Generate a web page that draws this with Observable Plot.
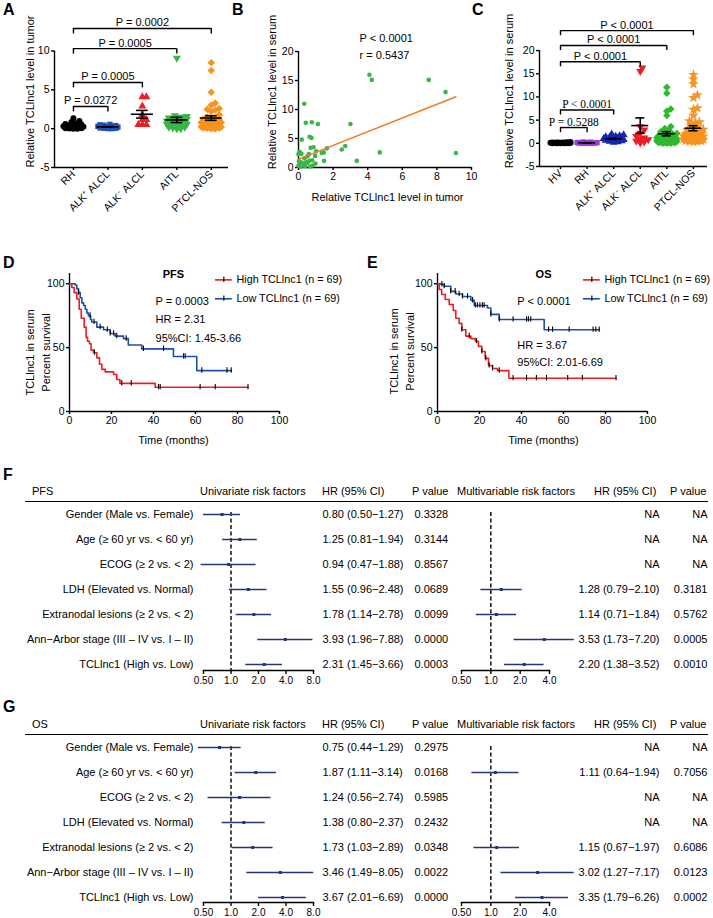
<!DOCTYPE html>
<html><head><meta charset="utf-8">
<script src="https://cdn.jsdelivr.net/npm/d3@7"></script>
<script src="https://cdn.jsdelivr.net/npm/@observablehq/plot@0.6"></script>
<style>
html,body{margin:0;padding:0;background:#fff;}
#fig{position:relative;width:713px;height:918px;overflow:hidden;background:#fff;color:#000;}
</style></head><body><div id="fig"></div>
<script>
// ================= DATA =================
// Panel A: relative TCLlnc1 level in tumor
const catsA = ["RH", "ALK⁺ ALCL", "ALK⁻ ALCL", "AITL", "PTCL-NOS"];
const tumorRH = [1.35,1.0,0.85,0.7,0.55,0.45,0.35,0.3,0.25,0.2,0.15,0.1,0.1,0.05,0.05,0.02,0.0,0.0,0.4,0.6];
const tumorALKpos = [0.55,0.5,0.45,0.4,0.35,0.3,0.3,0.25,0.2,0.2,0.15,0.1,0.1,0.05,0.05,0.0,0.0];
const tumorALKneg = [4.1,4.1,2.9,1.8,1.15,1.15,0.5,0.5,0.5];
const tumorAITL = [9.1,1.7,1.6,1.5,1.4,1.3,1.2,1.1,1.0,0.9,0.8,0.7,0.6,0.5,0.4,0.3,0.2,0.1,0.0,0.0,1.5,1.2,0.8,0.5,0.2,0.6];
const tumorPTCL = [8.5,7.5,4.7,3.3,3.0,2.6,2.5,2.4,2.2,1.8,1.5,1.4,1.3,1.2,1.1,1.0,0.9,0.8,0.7,0.6,0.5,0.4,0.3,0.3,0.2,0.2,0.1,0.1,0.0,0.0,0.5,0.8,1.0,0.1,0.2,0.3,0.4,0.05,0.15,0.25];
const bracketsA = [
  {from: 0, to: 4, label: "P = 0.0002"},
  {from: 0, to: 3, label: "P = 0.0005"},
  {from: 0, to: 2, label: "P = 0.0005"},
  {from: 0, to: 1, label: "P = 0.0272"}
];

// Panel B: tumor vs serum
const bTumor = [4.1,4.24,7.53,8.5,9.1,4.7,3.37,3.0,2.7,2.5,0.33,0.42,0.77,1.12,0.64,0.75,0.19,0.7,0.87,1.02,1.35,1.46,1.64,1.48,0.06,0.1,0.0,0.17,0.52,0.6,0.96,0.35,0.79,0.98,0.83,0.52,0.3,0.1,0.0,0.13,0.38,0.67,0.19,0.02,0.44,0.63];
const bSerum = [16.0,15.1,15.1,13.0,2.5,2.6,1.15,7.5,3.7,3.1,11.0,7.7,7.8,7.5,5.3,5.1,4.8,3.4,3.5,2.8,2.5,2.6,3.3,1.15,2.7,2.5,2.3,2.35,1.95,2.3,2.0,1.6,1.25,0.7,0.35,0.8,0.6,0.7,0.3,0.17,0.23,0.17,0.86,1.1,0.9,1.15];
const fitX = [0, 9.1];
const fitY = [1.44, 12.2];
const statsB = ["P < 0.0001", "r = 0.5437"];

// Panel C: relative TCLlnc1 level in serum
const catsC = ["HV", "RH", "ALK⁺ ALCL", "ALK⁻ ALCL", "AITL", "PTCL-NOS"];
const serumHV = [0.3,0.25,0.2,0.2,0.15,0.15,0.1,0.1,0.1,0.05,0.05,0.05,0.0,0.0,0.0,0.0,0.02,0.08,0.12,0.18];
const serumRH = [0.3,0.25,0.2,0.15,0.1,0.1,0.05,0.05,0.0,0.0,0.02,0.08,0.12,0.18];
const serumALKpos = [2.0,1.8,1.6,1.5,1.3,1.2,1.1,1.0,0.9,0.8,0.7,0.6,0.5,0.4,0.3,0.2,1.4,1.0,0.8,0.6];
const serumALKneg = [16.3,15.5,3.6,2.9,2.2,1.5,1.2,1.0,0.8,0.5,0.3,0.1];
const serumAITL = [12.1,10.8,7.4,6.9,6.0,3.6,3.2,2.8,2.5,2.3,2.1,2.0,1.8,1.7,1.6,1.5,1.4,1.3,1.2,1.1,1.0,1.0,0.9,0.8,0.8,0.7,0.6,0.6,0.5,0.5,0.4,0.3,0.3,0.2,0.2,0.1,0.1,0.0,0.0,0.0];
const serumPTCL = [14.8,13.8,12.8,10.4,9.8,7.6,7.3,6.0,4.8,4.6,4.4,4.0,3.5,3.2,3.0,2.8,2.6,2.4,2.2,2.0,1.9,1.8,1.7,1.6,1.5,1.4,1.3,1.2,1.1,1.0,0.9,0.8,0.7,0.6,0.5,0.5,0.4,0.3,1.2,1.0,0.8,0.6,0.4,1.5,2.0,1.1];
const bracketsC = [
  {from: 0, to: 5, label: "P < 0.0001"},
  {from: 0, to: 4, label: "P < 0.0001"},
  {from: 0, to: 3, label: "P < 0.0001"},
  {from: 0, to: 2, label: "P < 0.0001"},
  {from: 0, to: 1, label: "P = 0.5288"}
];

// Panels D/E: Kaplan-Meier (time in months, percent survival)
const seriesNames = ["High TCLlnc1 (n = 69)", "Low TCLlnc1 (n = 69)"];
const pfsHighT = [0,1.1,2.2,3.5,4.6,5.6,7,7.9,8.6,9.5,10.3,11.4,13,14.3,15.4,17,21,22.5,24,40.8,85];
const pfsHighS = [100,97,93,88,80,73,66,58,55,53,48,46,42,37,33,31,29,25,22,19,19];
const pfsHighCens = [11.9,24.9,29.4,42.4,43.2,62.2,69.4,85];
const pfsLowT = [0,2.7,3.5,4.3,5.1,5.9,6.7,7.5,8.3,9,10,10.6,13,16.2,19.4,21.7,25.7,28,34.4,49.5,60.6,77];
const pfsLowS = [100,99,96,93,89,85,83,80,77,75,72,70,66,64,61,59,57,52,49,43,32,32];
const pfsLowCens = [4.3,9.8,11.7,14.6,18,19.4,21,22.5,27,35.2,44.8,54.3,55.1,63,75,77];
const pfsStats = ["P = 0.0003", "HR = 2.31", "95%CI: 1.45-3.66"];
const osHighT = [0,0.8,2,3.7,5.6,7.5,8.7,10.3,11.6,13.5,15.9,18,19.5,21.1,22.7,24.3,26.2,28.6,34,85];
const osHighS = [100,95.5,91.6,87.6,83.7,79,73,69,64,59,57,55,51,47,41.6,36,33.7,32,26,26];
const osHighCens = [11.6,15.1,18.6,21.1,23,24.6,26.2,29.4,36,42.4,47.1,51.9,62,69,85];
const osLowT = [0,1.6,3.2,6.3,8.7,11.9,15.9,17.5,23.8,25.4,29.4,50.8,77];
const osLowS = [100,99.5,98,94,92,90,87,83,81,76,72,64,64];
const osLowCens = [2.1,3.2,6.3,8.4,10.3,11.9,14.3,16.7,18,19,20.2,21.4,22.2,25.4,29.4,36,42.4,43.3,44.4,52.9,54.8,62.7,74.1,75.4,77];
const osStats = ["P < 0.0001", "HR = 3.67", "95%CI: 2.01-6.69"];

// Panels F/G: forest tables
const factorLabels = ["Gender (Male vs. Female)", "Age (≥ 60 yr vs. < 60 yr)", "ECOG (≥ 2 vs. < 2)", "LDH (Elevated vs. Normal)", "Extranodal lesions (≥ 2 vs. < 2)", "Ann−Arbor stage (III – IV vs. I – II)", "TCLlnc1 (High vs. Low)"];
const pfsUniHR = [0.80,1.25,0.94,1.55,1.78,3.93,2.31];
const pfsUniLo = [0.50,0.81,0.47,0.96,1.14,1.96,1.45];
const pfsUniHi = [1.27,1.94,1.88,2.48,2.78,7.88,3.66];
const pfsUniP = ["0.3328","0.3144","0.8567","0.0689","0.0099","0.0000","0.0003"];
const pfsMulHR = [null,null,null,1.28,1.14,3.53,2.20];
const pfsMulLo = [null,null,null,0.79,0.71,1.73,1.38];
const pfsMulHi = [null,null,null,2.10,1.84,7.20,3.52];
const pfsMulP = ["NA","NA","NA","0.3181","0.5762","0.0005","0.0010"];
const osUniHR = [0.75,1.87,1.24,1.38,1.73,3.46,3.67];
const osUniLo = [0.44,1.11,0.56,0.80,1.03,1.49,2.01];
const osUniHi = [1.29,3.14,2.74,2.37,2.89,8.05,6.69];
const osUniP = ["0.2975","0.0168","0.5985","0.2432","0.0348","0.0022","0.0000"];
const osMulHR = [null,1.11,null,null,1.15,3.02,3.35];
const osMulLo = [null,0.64,null,null,0.67,1.27,1.79];
const osMulHi = [null,1.94,null,null,1.97,7.17,6.26];
const osMulP = ["NA","0.7056","NA","NA","0.6086","0.0123","0.0002"];
const forestTicksUni = [0.5,1,2,4,8];
const forestTicksMul = [0.5,1,2,4];

// ================= STYLE / LAYOUT =================
const FONT = "'Liberation Sans', Arial, Helvetica, sans-serif";
const SERIF = "'Liberation Serif', 'Times New Roman', serif";
const RED = "#ee1c25", BLUE = "#1f4fa8", NAVY = "#25357a";
const style = {fontFamily: FONT, fontSize: "10px", background: "transparent", color: "#000", overflow: "visible"};
const fig = document.getElementById("fig");
function put(node, left, top) {
  const d = document.createElement("div");
  d.style.cssText = `position:absolute;left:${left}px;top:${top}px;`;
  d.appendChild(node); fig.appendChild(d);
}
function htext(txt, left, top, css = "") {
  const d = document.createElement("div");
  d.textContent = txt;
  d.style.cssText = `position:absolute;left:${left}px;top:${top}px;font:11px/13px ${FONT};white-space:nowrap;color:#000;${css}`;
  fig.appendChild(d);
}
function letter(t, left, top) { htext(t, left, top, `font:bold 16px/16px ${FONT};`); }
function hline(left, top, width) {
  const d = document.createElement("div");
  d.style.cssText = `position:absolute;left:${left}px;top:${top}px;width:${width}px;height:0;border-top:1.5px solid #000;`;
  fig.appendChild(d);
}

// simple beeswarm layout (pixel space) -> x offsets in data units
function swarm(vals, pxY, pxX, minD, maxHalf) {
  const idx = vals.map((_, i) => i).sort((a, b) => vals[a] - vals[b]);
  const step = minD / 2, cands = [0];
  for (let k = 1; k * step <= maxHalf; k++) cands.push(k * step, -k * step);
  const placed = [], off = [];
  for (const i of idx) {
    const py = vals[i] * pxY;
    let best = 0, bestD = -1;
    for (const c of cands) {
      let d = Infinity;
      for (const p of placed) d = Math.min(d, Math.hypot(p[0] - c, p[1] - py));
      if (d >= minD) { best = c; break; }
      if (d > bestD) { bestD = d; best = c; }
    }
    placed.push([best, py]);
    off[i] = best / pxX;
  }
  return off;
}

function dotPanel(o) {
  const pts = [], stats = [];
  o.groups.forEach((g, i) => {
    const off = swarm(g.vals, o.pxY, o.pxX, o.minD, o.maxHalf);
    g.vals.forEach((v, k) => pts.push({x: i + off[k], y: v, g: i}));
    const m = d3.mean(g.vals), s = d3.deviation(g.vals) / Math.sqrt(g.vals.length);
    stats.push({i, mean: m, lo: m - s, hi: m + s});
  });
  const br = o.brackets.map((b, k) => ({x1: b.from, x2: b.to, y: o.bracketY[k], label: b.label, font: o.bracketFont[k]}));
  const x0 = o.xDomain[0], y0 = o.yDomain[0];
  return Plot.plot({
    width: o.width, height: o.height, marginLeft: o.marginLeft, marginRight: o.marginRight,
    marginTop: 0, marginBottom: o.marginBottom,
    x: {domain: o.xDomain, label: null}, y: {domain: o.yDomain, label: null},
    style,
    marks: [
      Plot.ruleX([x0], {y1: y0, y2: o.axisTop, strokeWidth: 1.4}),
      Plot.ruleY([y0], {strokeWidth: 1.4}),
      Plot.axisY({ticks: o.yTicks, tickFormat: d => String(d), tickSize: 3, tickPadding: 2, fontSize: 10.5, strokeWidth: 1.4, label: null}),
      Plot.axisX({ticks: d3.range(o.cats.length), tickFormat: i => o.cats[i], tickRotate: -45, tickSize: 3, tickPadding: 2, fontSize: 10.5, strokeWidth: 1.4, label: null}),
      ...o.groups.map((g, i) => Plot.dot(pts.filter(p => p.g === i), {x: "x", y: "y", fill: g.color, symbol: g.symbol, rotate: g.rotate, r: g.r || o.r})),
      Plot.ruleY(stats, {y: "mean", x1: d => d.i - 0.32, x2: d => d.i + 0.32, strokeWidth: 1.6}),
      Plot.ruleX(stats, {x: "i", y1: "lo", y2: "hi", strokeWidth: 1.6}),
      Plot.ruleY(stats, {y: "hi", x1: d => d.i - 0.17, x2: d => d.i + 0.17, strokeWidth: 1.6}),
      Plot.ruleY(stats, {y: "lo", x1: d => d.i - 0.17, x2: d => d.i + 0.17, strokeWidth: 1.6}),
      Plot.ruleY(br, {y: "y", x1: "x1", x2: "x2", strokeWidth: 1.4}),
      Plot.ruleX(br, {x: "x1", y1: "y", y2: d => d.y - o.drop, strokeWidth: 1.4}),
      Plot.ruleX(br, {x: "x2", y1: "y", y2: d => d.y - o.drop, strokeWidth: 1.4}),
      Plot.text(br.filter(d => d.font !== "serif"), {x: d => (d.x1 + d.x2) / 2, y: "y", text: "label", lineAnchor: "bottom", dy: -2, fontSize: 11}),
      Plot.text(br.filter(d => d.font === "serif"), {x: d => (d.x1 + d.x2) / 2, y: "y", text: "label", lineAnchor: "bottom", dy: -2, fontSize: 11.5, fontFamily: SERIF}),
      Plot.text([o.yTitle], {text: d => d, frameAnchor: "left", rotate: -90, textAnchor: "middle", lineAnchor: "middle", dx: o.titleDx, dy: o.titleDy, fontSize: 11})
    ]
  });
}

// ---------- Panel A ----------
letter("A", 3, 2);
put(dotPanel({
  cats: catsA,
  groups: [
    {vals: tumorRH, color: "#000000", symbol: "circle", rotate: 0},
    {vals: tumorALKpos, color: "#2050b4", symbol: "square", rotate: 0},
    {vals: tumorALKneg, color: "#ee1c25", symbol: "triangle", rotate: 0},
    {vals: tumorAITL, color: "#39b54a", symbol: "triangle", rotate: 180},
    {vals: tumorPTCL, color: "#f7931e", symbol: "square", rotate: 45}
  ],
  brackets: bracketsA, bracketY: [12.9, 10.3, 5.95, 2.86], bracketFont: ["sans","sans","sans","sans"], drop: 0.7,
  xDomain: [-0.55, 4.5], yDomain: [-5, 16.5], yTicks: [-5, 0, 5, 10], axisTop: 10,
  width: 240, height: 230, marginLeft: 54, marginRight: 12, marginBottom: 63,
  pxY: 7.77, pxX: 34.46, r: 3.0, minD: 4.0, maxHalf: 10,
  yTitle: "Relative TCLlnc1 level in tumor", titleDx: -24.5, titleDy: 7.5
}), 0, 0);

// ---------- Panel B ----------
letter("B", 232, 2);
{
  const pts = bTumor.map((x, i) => ({x, y: bSerum[i]}));
  const fit = fitX.map((x, i) => ({x, y: fitY[i]}));
  const B = Plot.plot({
    width: 245, height: 210, marginLeft: 68, marginRight: 4, marginTop: 51, marginBottom: 43,
    x: {domain: [0, 10], label: null}, y: {domain: [0, 20], label: null},
    style,
    marks: [
      Plot.ruleX([0], {strokeWidth: 1.4}),
      Plot.ruleY([0], {strokeWidth: 1.4}),
      Plot.axisY({ticks: [0, 5, 10, 15, 20], tickSize: 3, tickPadding: 2, fontSize: 10.5, strokeWidth: 1.4, label: null}),
      Plot.axisX({ticks: [0, 2, 4, 6, 8, 10], tickSize: 3, tickPadding: 2, fontSize: 10.5, strokeWidth: 1.4, label: null}),
      Plot.dot(pts, {x: "x", y: "y", r: 2.3, fill: "#3cb54a"}),
      Plot.line(fit, {x: "x", y: "y", stroke: "#f47a20", strokeWidth: 1.5}),
      Plot.text(statsB, {text: d => d, x: 3.53, y: (d, i) => [22.2, 19.4][i], textAnchor: "start", fontSize: 11}),
      Plot.text(["Relative TCLlnc1 level in serum"], {text: d => d, frameAnchor: "left", rotate: -90, textAnchor: "middle", lineAnchor: "middle", dx: -26, dy: -17.5, fontSize: 11}),
      Plot.text(["Relative TCLlnc1 level in tumor"], {text: d => d, frameAnchor: "bottom", textAnchor: "middle", lineAnchor: "middle", dx: 2.5, dy: 30, fontSize: 11})
    ]
  });
  put(B, 230, 0);
}

// ---------- Panel C ----------
letter("C", 472, 2);
put(dotPanel({
  cats: catsC,
  groups: [
    {vals: serumHV, color: "#000000", symbol: "circle", rotate: 0},
    {vals: serumRH, color: "#a335d6", symbol: "square", rotate: 0},
    {vals: serumALKpos, color: "#1426b4", symbol: "triangle", rotate: 0},
    {vals: serumALKneg, color: "#ee1c25", symbol: "triangle", rotate: 180},
    {vals: serumAITL, color: "#2db82d", symbol: "square", rotate: 45},
    {vals: serumPTCL, color: "#f7931e", symbol: "star", rotate: 0, r: 3.4}
  ],
  brackets: bracketsC, bracketY: [24.3, 21.1, 17.6, 7.2, 3.4], bracketFont: ["sans","sans","sans","serif","serif"], drop: 1.1,
  xDomain: [-0.79, 5.53], yDomain: [-5, 30.8], yTicks: [-5, 0, 5, 10, 15, 20], axisTop: 20,
  width: 243, height: 230, marginLeft: 69, marginRight: 6, marginBottom: 64,
  pxY: 4.64, pxX: 26.6, r: 3.0, minD: 4.0, maxHalf: 10,
  yTitle: "Relative TCLlnc1 level in serum", titleDx: -30, titleDy: 7.5
}), 470, 0);

// ---------- Panels D / E ----------
function steps(T, S) { return T.map((t, i) => ({t, s: S[i]})); }
function survAt(T, S, t) { let s = S[0]; for (let i = 0; i < T.length; i++) if (T[i] <= t) s = S[i]; return s; }
function kmPanel(o) {
  const hi = steps(o.highT, o.highS), lo = steps(o.lowT, o.lowS);
  const cens = [...o.highCens.map(t => ({t, s: survAt(o.highT, o.highS, t)})),
                ...o.lowCens.map(t => ({t, s: survAt(o.lowT, o.lowS, t)}))];
  const leg = seriesNames.map((name, i) => ({name, y: [103, 88.2][i], color: [RED, BLUE][i]}));
  return Plot.plot({
    width: o.width, height: 220, marginLeft: o.marginLeft, marginRight: o.marginRight, marginTop: 43, marginBottom: 39,
    x: {domain: [0, 100], label: null}, y: {domain: [0, 108], label: null},
    style,
    marks: [
      Plot.ruleX([0], {strokeWidth: 1.4}),
      Plot.ruleY([0], {strokeWidth: 1.4}),
      Plot.axisY({ticks: [0, 50, 100], tickSize: 3, tickPadding: 2, fontSize: 10.5, strokeWidth: 1.4, label: null}),
      Plot.axisX({ticks: [0, 20, 40, 60, 80, 100], tickSize: 3, tickPadding: 2, fontSize: 10.5, strokeWidth: 1.4, label: null}),
      Plot.line(lo, {x: "t", y: "s", curve: "step-after", stroke: BLUE, strokeWidth: 1.6}),
      Plot.line(hi, {x: "t", y: "s", curve: "step-after", stroke: RED, strokeWidth: 1.6}),
      Plot.ruleX(cens, {x: "t", y1: d => d.s - 2, y2: d => d.s + 2.2, stroke: "#000", strokeWidth: 1.1}),
      Plot.ruleY(leg, {y: "y", x1: 69.5, x2: 77.5, stroke: "color", strokeWidth: 1.6}),
      Plot.ruleX(leg, {x: 73.5, y1: d => d.y - 2, y2: d => d.y + 2.2, stroke: "#000", strokeWidth: 1.1}),
      Plot.text(leg, {x: 79.5, y: "y", text: "name", textAnchor: "start", fontSize: 10.8}),
      Plot.text([o.title], {text: d => d, x: o.titleX, y: 107, fontWeight: "bold", fontSize: 11}),
      Plot.text(o.stats, {text: d => d, x: o.statX, y: (d, i) => o.statY[i], textAnchor: "start", fontSize: 11}),
      Plot.text(["TCLlnc1 in serum\nPercent survival"], {text: d => d, frameAnchor: "left", rotate: -90, textAnchor: "middle", lineAnchor: "middle", lineHeight: 1.4, dx: o.ytDx, dy: o.ytDy, fontSize: 11}),
      Plot.text(["Time (months)"], {text: d => d, frameAnchor: "bottom", textAnchor: "middle", lineAnchor: "middle", dx: o.xtDx, dy: 29, fontSize: 11})
    ]
  });
}
letter("D", 3, 255);
put(kmPanel({
  width: 355, marginLeft: 69, marginRight: 76,
  highT: pfsHighT, highS: pfsHighS, highCens: pfsHighCens,
  lowT: pfsLowT, lowS: pfsLowS, lowCens: pfsLowCens,
  title: "PFS", titleX: 49.5, stats: pfsStats, statX: 41, statY: [85.8, 71.7, 57.5],
  ytDx: -32.5, ytDy: 10, xtDx: -1
}), 0, 230);
letter("E", 367, 255);
put(kmPanel({
  width: 358, marginLeft: 82, marginRight: 66,
  highT: osHighT, highS: osHighS, highCens: osHighCens,
  lowT: osLowT, lowS: osLowS, lowCens: osLowCens,
  title: "OS", titleX: 50.5, stats: osStats, statX: 38, statY: [85.8, 52, 38.6],
  ytDx: -36.5, ytDy: 9, xtDx: 1
}), 355, 230);

// ---------- Panels F / G ----------
const tickFmt = d => d < 1 ? d.toFixed(2) : d.toFixed(1);
const ciText = d => `${d.hr.toFixed(2)} (${d.lo.toFixed(2)}−${d.hi.toFixed(2)})`;
function rowsOf(HR, LO, HI, P) { return factorLabels.map((factor, i) => ({factor, hr: HR[i], lo: LO[i], hi: HI[i], p: P[i]})); }
function forestAxis(ticks) {
  return [
    Plot.frame({anchor: "bottom", strokeWidth: 1.4}),
    Plot.axisX({ticks, tickFormat: () => "", tickSize: 4, strokeWidth: 1.4, label: null}),
    Plot.text(ticks, {x: d => d, text: tickFmt, frameAnchor: "bottom", lineAnchor: "top", dy: 6, fontSize: 10})
  ];
}

function forestUni(rows, height, marginTop, marginBottom, insetBottom) {
  return Plot.plot({
    width: 455, height, marginLeft: 203, marginRight: 142, marginTop, marginBottom,
    x: {type: "log", domain: [0.5, 8], label: null},
    y: {type: "point", domain: factorLabels, padding: 0, insetBottom, label: null},
    style,
    marks: [
      ...forestAxis(forestTicksUni),
      Plot.axisY({tickSize: 0, tickPadding: 10, fontSize: 11, label: null}),
      Plot.ruleX([1], {strokeDasharray: "4,2.5", strokeWidth: 1.4}),
      Plot.ruleY(rows, {y: "factor", x1: "lo", x2: "hi", stroke: NAVY, strokeWidth: 1.6}),
      Plot.dot(rows, {x: "hr", y: "factor", r: 1.7, fill: NAVY, symbol: "square"}),
      Plot.text(rows, {y: "factor", text: ciText, frameAnchor: "right", dx: 9, textAnchor: "start", fontSize: 11}),
      Plot.text(rows, {y: "factor", text: "p", frameAnchor: "right", dx: 101, textAnchor: "start", fontSize: 11})
    ]
  });
}
function forestMul(rows, height, marginTop, marginBottom, insetBottom) {
  const have = rows.filter(d => d.hr != null);
  return Plot.plot({
    width: 258, height, marginLeft: 6, marginRight: 164, marginTop, marginBottom,
    x: {type: "log", domain: [0.5, 4], label: null},
    y: {type: "point", domain: factorLabels, padding: 0, insetBottom, axis: null, label: null},
    style,
    marks: [
      ...forestAxis(forestTicksMul),
      Plot.ruleX([1], {strokeDasharray: "4,2.5", strokeWidth: 1.4}),
      Plot.ruleY(have, {y: "factor", x1: "lo", x2: "hi", stroke: NAVY, strokeWidth: 1.6}),
      Plot.dot(have, {x: "hr", y: "factor", r: 1.7, fill: NAVY, symbol: "square"}),
      Plot.text(rows, {y: "factor", text: d => d.hr == null ? "NA" : ciText(d), frameAnchor: "right", dx: 110, textAnchor: "end", fontSize: 11}),
      Plot.text(rows, {y: "factor", text: "p", frameAnchor: "right", dx: 158, textAnchor: "end", fontSize: 11})
    ]
  });
}
function headers(endpoint, top) {
  htext(endpoint, 32, top);
  htext("Univariate risk factors", 200, top);
  htext("HR (95% CI)", 322, top);
  htext("P value", 412, top);
  htext("Multivariable risk factors", 457, top);
  htext("HR (95% CI)", 594, top);
  htext("P value", 670, top);
}

letter("F", 3, 467);
headers("PFS", 484.5);
hline(25, 501, 683);
put(forestUni(rowsOf(pfsUniHR, pfsUniLo, pfsUniHi, pfsUniP), 186, 10, 18, 5), 0, 502);
put(forestMul(rowsOf(pfsMulHR, pfsMulLo, pfsMulHi, pfsMulP), 186, 10, 18, 5), 455, 502);

letter("G", 3, 699);
headers("OS", 717.5);
hline(25, 734, 683);
put(forestUni(rowsOf(osUniHR, osUniLo, osUniHi, osUniP), 183, 11, 16, 4), 0, 735);
put(forestMul(rowsOf(osMulHR, osMulLo, osMulHi, osMulP), 183, 11, 16, 4), 455, 735);
</script></body></html>
